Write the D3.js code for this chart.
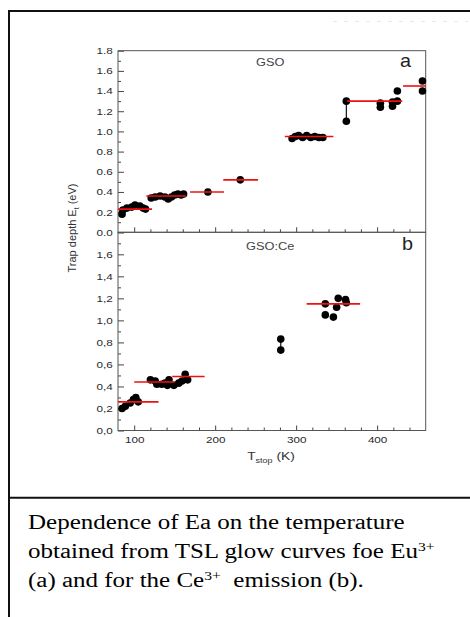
<!DOCTYPE html>
<html lang="en">
<head>
<meta charset="utf-8">
<title>Trap depth vs Tstop</title>
<script src="https://cdn.jsdelivr.net/npm/d3@7"></script>
<style>
body{margin:0;background:#fff;}
svg{display:block;}
</style>
</head>
<body>
<script>
// panel a : GSO
var gsoT = [85,86,91,97,101,107,111,114, 121,126,132,138,142,146,150,154,158,161, 191, 231,
            295,299,303,308,313,318,323,328,333, 362,362, 404,404,419,419,425,425, 456,456];
var gsoE = [0.18,0.22,0.24,0.25,0.27,0.26,0.24,0.23, 0.34,0.35,0.36,0.35,0.33,0.35,0.37,0.38,0.37,0.38, 0.40, 0.52,
            0.93,0.95,0.96,0.94,0.96,0.94,0.95,0.94,0.94, 1.30,1.10, 1.28,1.24,1.29,1.25,1.30,1.40, 1.50,1.40];
var gsoFitFrom = [80,115,169,210,286,363,432];
var gsoFitTo   = [122,164,211,253,346,431,460];
var gsoFitE    = [0.23,0.36,0.40,0.52,0.95,1.30,1.45];
var gsoPairT = [362], gsoPairLo = [1.10], gsoPairHi = [1.30];

// panel b : GSO:Ce
var ceT = [85,89,95,99,102,105, 120,126,128,134,138,141,143,149,155,159,163,166,
           281,281, 336,336,346,350,352,361,362];
var ceE = [0.20,0.22,0.25,0.28,0.30,0.26, 0.46,0.45,0.42,0.42,0.43,0.41,0.46,0.41,0.43,0.45,0.51,0.46,
           0.83,0.73, 1.15,1.05,1.03,1.12,1.20,1.19,1.16];
var ceFitFrom = [80,100,147,313];
var ceFitTo   = [130,150,187,379];
var ceFitE    = [0.26,0.44,0.49,1.15];
var cePairT = [281], cePairLo = [0.73], cePairHi = [0.83];

// ticks
var xTicks = [100,200,300,400];
var xMinor = [120,140,160,180,220,240,260,280,320,340,360,380,420,440];
var yTicks = [0,0.2,0.4,0.6,0.8,1.0,1.2,1.4,1.6,1.8];
var yMinor = [0.1,0.3,0.5,0.7,0.9,1.1,1.3,1.5,1.7];
var yLabelsA = ["0.0","0.2","0.4","0.6","0.8","1.0","1.2","1.4","1.6","1.8"];
var yLabelsB = ["0,0","0,2","0,4","0,6","0,8","1,0","1,2","1,4","1,6",""];

var w = 470, h = 617;
var left = 118, right = 425.7, topA = 50.7, midY = 232.3, botB = 430.5;
var sans = "'Liberation Sans', Arial, sans-serif";
var serif = "'Liberation Serif', 'Times New Roman', serif";

var svg = d3.select("body").append("svg")
    .attr("width", w)
    .attr("height", h);

// outer frame
svg.append("line").attr("x1",9).attr("y1",10).attr("x2",9).attr("y2",h)
    .attr("stroke","#111").attr("stroke-width",2);
svg.append("line").attr("x1",9).attr("y1",11).attr("x2",w).attr("y2",11)
    .attr("stroke","#111").attr("stroke-width",2);
svg.append("line").attr("x1",9).attr("y1",497.7).attr("x2",w).attr("y2",497.7)
    .attr("stroke","#111").attr("stroke-width",2);
svg.append("line").attr("x1",333).attr("y1",21.5).attr("x2",468).attr("y2",21.5)
    .attr("stroke","#e6e8ef").attr("stroke-width",1).attr("stroke-dasharray","4,7");

var xScale = d3.scaleLinear().domain([80,460]).range([left,right]);
var yA = d3.scaleLinear().domain([0,1.8]).range([midY,topA]);
var yB = d3.scaleLinear().domain([0,1.8]).range([botB,midY]);

function styleAxis(g) {
    g.select(".domain").remove();
    g.selectAll("line").attr("stroke","#444");
    g.selectAll("text")
        .attr("font-family", sans)
        .attr("font-size", 9)
        .attr("fill", "#2a2a2a")
        .attr("transform", "scale(1.3,1)");
}

function drawPanel(y, labels, showX, T, E, fitFrom, fitTo, fitE, pT, pLo, pHi) {
    var g = svg.append("g");
    var yBottom = y.range()[0];

    g.append("g").attr("transform","translate("+left+",0)")
        .call(d3.axisLeft(y).tickValues(yTicks)
            .tickFormat(function(d){ return labels[Math.round(d*5)]; })
            .tickSizeInner(-6).tickSizeOuter(0).tickPadding(4))
        .call(styleAxis);
    g.append("g").attr("transform","translate("+left+",0)")
        .call(d3.axisLeft(y).tickValues(yMinor).tickFormat("")
            .tickSizeInner(-3).tickSizeOuter(0))
        .call(styleAxis);

    g.append("g").attr("transform","translate(0,"+yBottom+")")
        .call(d3.axisBottom(xScale).tickValues(xTicks)
            .tickFormat(showX ? d3.format("d") : "")
            .tickSizeInner(-5).tickSizeOuter(0).tickPadding(6))
        .call(styleAxis);
    g.append("g").attr("transform","translate(0,"+yBottom+")")
        .call(d3.axisBottom(xScale).tickValues(xMinor).tickFormat("")
            .tickSizeInner(-3).tickSizeOuter(0))
        .call(styleAxis);

    // panel box
    g.append("rect")
        .attr("x", left).attr("y", y.range()[1])
        .attr("width", right-left).attr("height", yBottom-y.range()[1])
        .attr("fill","none").attr("stroke","#555").attr("stroke-width",1);

    // connectors between paired points
    g.selectAll(".pair").data(pT).enter().append("line")
        .attr("x1", function(d){ return xScale(d); })
        .attr("x2", function(d){ return xScale(d); })
        .attr("y1", function(d,i){ return y(pLo[i]); })
        .attr("y2", function(d,i){ return y(pHi[i]); })
        .attr("stroke","#111").attr("stroke-width",1.2);

    g.selectAll("circle").data(T).enter().append("circle")
        .attr("cx", function(d){ return xScale(d); })
        .attr("cy", function(d,i){ return y(E[i]); })
        .attr("r", 3.8)
        .attr("fill","#000");

    // red mean levels
    g.selectAll(".fit").data(fitE).enter().append("line")
        .attr("x1", function(d,i){ return xScale(fitFrom[i]); })
        .attr("x2", function(d,i){ return xScale(fitTo[i]); })
        .attr("y1", function(d){ return y(d); })
        .attr("y2", function(d){ return y(d); })
        .attr("stroke","#ee1111").attr("stroke-width",1.6);
}

drawPanel(yA, yLabelsA, false, gsoT, gsoE, gsoFitFrom, gsoFitTo, gsoFitE, gsoPairT, gsoPairLo, gsoPairHi);
drawPanel(yB, yLabelsB, true, ceT, ceE, ceFitFrom, ceFitTo, ceFitE, cePairT, cePairLo, cePairHi);

function label(x, y, str, size, anchor, fill, family, sx) {
    return svg.append("text")
        .attr("transform","translate("+x+","+y+") scale("+sx+",1)")
        .attr("text-anchor", anchor)
        .attr("font-family", family)
        .attr("font-size", size)
        .attr("fill", fill)
        .text(str);
}

label(256, 66, "GSO", 10.5, "start", "#444", sans, 1.22);
label(400, 66.5, "a", 18, "start", "#222", sans, 1.1);
label(246, 250, "GSO:Ce", 10.5, "start", "#444", sans, 1.22);
label(402, 250, "b", 18, "start", "#222", sans, 1.1);

// axis titles
var yt = svg.append("text")
    .attr("transform","translate(75.5,228) rotate(-90)")
    .attr("text-anchor","middle")
    .attr("font-family", sans)
    .attr("font-size", 11)
    .attr("fill","#333");
yt.append("tspan").text("Trap depth E");
yt.append("tspan").attr("font-size",7).attr("dy",3).text("t");
yt.append("tspan").attr("dy",-3).text(" (eV)");

var xt = svg.append("text")
    .attr("transform","translate(271,460) scale(1.2,1)")
    .attr("text-anchor","middle")
    .attr("font-family", sans)
    .attr("font-size", 11.5)
    .attr("fill","#333");
xt.append("tspan").text("T");
xt.append("tspan").attr("font-size",7.5).attr("dy",3).text("stop");
xt.append("tspan").attr("dy",-3).text(" (K)");

// caption
var cap = svg.append("g").attr("transform","translate(28,0) scale(1.25,1)")
    .attr("font-family", serif).attr("font-size", 20).attr("fill","#000");
cap.append("text").attr("x",0).attr("y",529).text("Dependence of Ea on the temperature");
var l2 = cap.append("text").attr("x",0).attr("y",558);
l2.append("tspan").text("obtained from TSL glow curves foe Eu");
l2.append("tspan").attr("font-size",12.5).attr("dy",-7).text("3+");
var l3 = cap.append("text").attr("x",0).attr("y",587);
l3.append("tspan").text("(a) and for the Ce");
l3.append("tspan").attr("font-size",12.5).attr("dy",-7).text("3+");
l3.append("tspan").attr("dy",7).attr("dx",10).text("emission (b).");
</script>
</body>
</html>
